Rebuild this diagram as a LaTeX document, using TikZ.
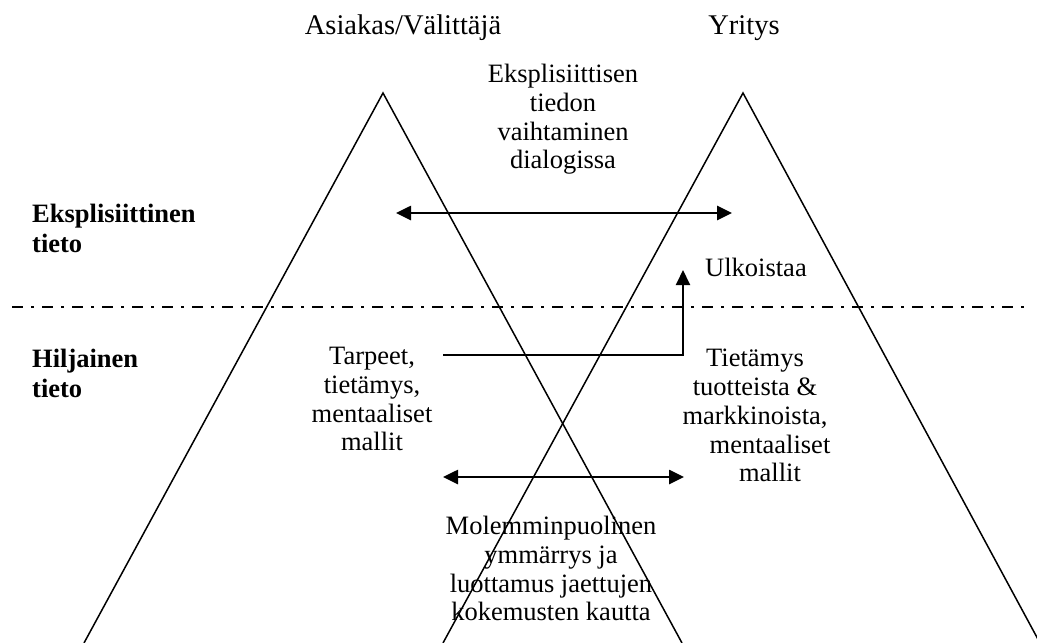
\documentclass[tikz,border=0pt]{standalone}
\usepackage{fontspec}
\setmainfont{Liberation Serif}
\usetikzlibrary{arrows.meta}
\begin{document}
\begin{tikzpicture}[x=1pt,y=-1pt,
  leg/.style={line width=1.5pt},
  link/.style={line width=2.6pt},
  tip/.tip={Triangle[length=15pt,width=14pt]},
  biarrow/.style={link,tip-tip},
  uparrow/.style={line width=2pt,-tip},
  divider/.style={line width=2.3pt,dash pattern=on 11pt off 8pt on 3pt off 8pt},
  txt/.style={font=\fontsize{26.5}{28.8}\selectfont,inner sep=0pt,align=center},
  side/.style={txt,font=\fontsize{26.5}{29.5}\selectfont\bfseries,align=left},
  head/.style={font=\fontsize{28.5}{30}\selectfont,inner sep=0pt}
]
\useasboundingbox (0,0) rectangle (1037,643);
\clip (0,0) rectangle (1037,643);

% the two knowledge pyramids
\coordinate (LA) at (383,93);
\coordinate (LL) at (84,643);
\coordinate (LR) at (682,643);
\coordinate (RA) at (743,93);
\coordinate (RL) at (443,643);
\coordinate (RR) at (1040,643);
\draw[leg] (LL) -- (LA) -- (LR);
\draw[leg] (RL) -- (RA) -- (RR);

% boundary between explicit and tacit knowledge
\coordinate (D1) at (12,307);
\coordinate (D2) at (1027,307);
\draw[divider] (D1) -- (D2);

% column headings
\node[head,anchor=base] (hA) at (403,34) {Asiakas/Välittäjä};
\node[head,anchor=base] (hY) at (744,34) {Yritys};

% row headings
\node[side,anchor=north west] (eks) at (32,204) {Eksplisiittinen\\tieto};
\node[side,anchor=north west] (hil) at (32,349) {Hiljainen\\tieto};

% text blocks
\node[txt,anchor=north] (dia) at (563,64) {Eksplisiittisen\\tiedon\\vaihtaminen\\dialogissa};
\node[txt,anchor=base west] (ulk) at (705,276) {Ulkoistaa};
\node[txt,anchor=north] (tar) at (372,347) {Tarpeet,\\tietämys,\\mentaaliset\\mallit};
\node[txt,anchor=north] (tie) at (755,349) {Tietämys\\tuotteista \&\\markkinoista,\\\hspace*{30pt}mentaaliset\\\hspace*{30pt}mallit};
\node[txt,anchor=north] (mol) at (551,516) {Molemminpuolinen\\ymmärrys ja\\luottamus jaettujen\\kokemusten kautta};

% exchange arrows
\coordinate (E1) at (396,213);
\coordinate (E2) at (732,213);
\draw[biarrow] (E1) -- (E2);

\coordinate (S1) at (443,477);
\coordinate (S2) at (684,477);
\draw[biarrow] (S1) -- (S2);

% externalisation path
\coordinate (X1) at (443,355);
\coordinate (X2) at (683,355);
\coordinate (X3) at (683,270);
\draw[link] (X1) -- ([xshift=1pt]X2);
\draw[uparrow] (X2) -- (X3);
\end{tikzpicture}
\end{document}
